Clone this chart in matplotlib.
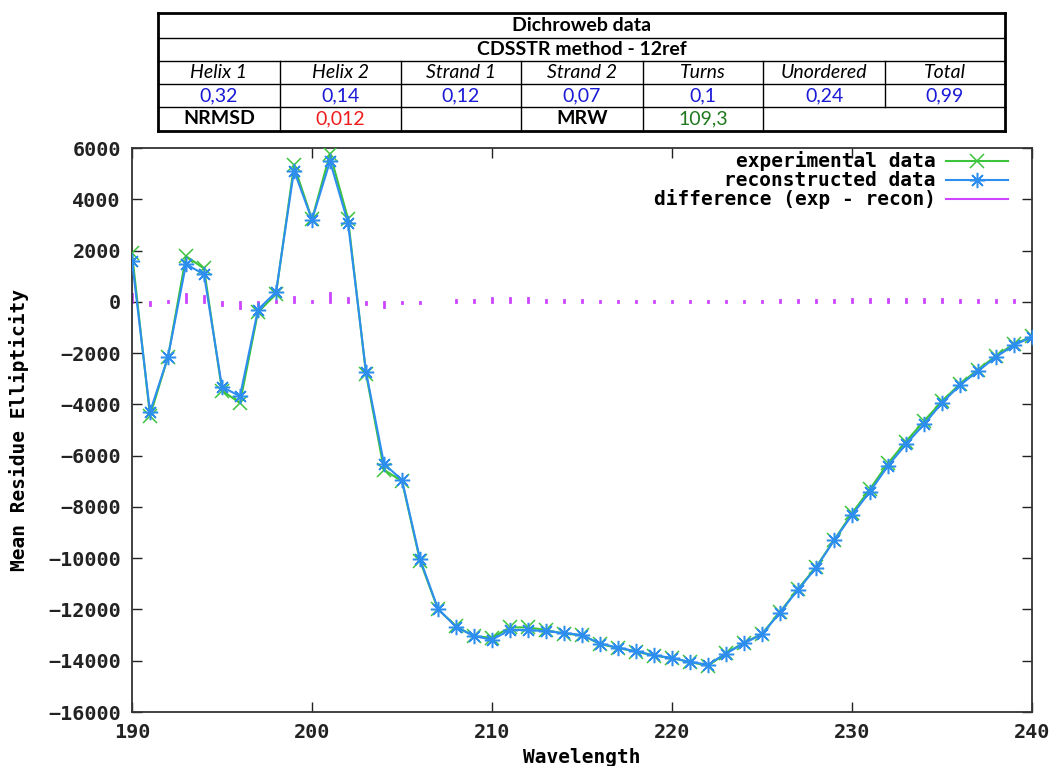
import numpy as np
import matplotlib.pyplot as plt
from matplotlib.lines import Line2D

# CD spectrum
wavelength = np.arange(190, 241)

experimental = [1900, -4450, -2150, 1780, 1300, -3460, -3950, -400, 300, 5320,
                3220, 5780, 3250, -2800, -6550, -7000, -10100, -12000, -12650, -13050,
                -13100, -12700, -12700, -12800, -12950, -13000, -13350, -13500, -13650, -13800,
                -13900, -14050, -14200, -13700, -13300, -12950, -12100, -11200, -10350, -9300,
                -8250, -7300, -6300, -5450, -4650, -3880, -3200, -2650, -2100, -1650,
                -1350]

reconstructed = [1600, -4300, -2150, 1470, 1070, -3320, -3680, -300, 380, 5120,
                 3200, 5480, 3080, -2720, -6320, -6950, -10030, -11970, -12680, -13040,
                 -13180, -12800, -12800, -12850, -12920, -13000, -13330, -13490, -13630, -13790,
                 -13890, -14050, -14150, -13720, -13320, -12970, -12120, -11230, -10380, -9310,
                 -8320, -7400, -6400, -5550, -4780, -3940, -3250, -2700, -2150, -1690,
                 -1370]

difference = [300, -120, 30, 300, 230, -120, -260, -130, 30, 200,
              30, 330, 150, -80, -220, -40, -50, 10, 80, 80,
              150, 160, 160, 90, 80, 80, 20, 20, 20, 20,
              20, 20, 20, 20, 20, 20, 60, 60, 60, 60,
              100, 100, 120, 120, 120, 100, 60, 60, 60, 60,
              40]

# summary table
table_title = "Dichroweb data"
table_method = "CDSSTR method - 12ref"
struct_labels = ["Helix 1", "Helix 2", "Strand 1", "Strand 2", "Turns", "Unordered", "Total"]
struct_values = ["0,32", "0,14", "0,12", "0,07", "0,1", "0,24", "0,99"]
nrmsd = "0,012"
mrw = "109,3"

W, H = 1058, 766
mono = "DejaVu Sans Mono"
sans = "Lato"
c_exp, c_rec, c_diff = "#3cc43c", "#2e8ef0", "#cc44ff"
exp_style = dict(color=c_exp, lw=1.5, marker="x", ms=10, mew=1.1)
rec_style = dict(color=c_rec, lw=1.5, marker=(8, 2, 0), ms=11, mew=1.1)


def px(x, y):
    return x / W, 1 - y / H


fig = plt.figure(figsize=(W / 100, H / 100), dpi=100)
ax = fig.add_axes([132 / W, 1 - 712 / H, 900 / W, 564 / H])

# difference drawn as impulses, like gnuplot
ax.vlines(wavelength, 0, difference, colors=c_diff, linewidth=2.0,
          capstyle="projecting", zorder=2)
ax.plot(wavelength, experimental, zorder=3, **exp_style)
ax.plot(wavelength, reconstructed, zorder=4, **rec_style)

ax.set_xlim(190, 240)
ax.set_ylim(-16000, 6000)
ax.set_xticks(np.arange(190, 241, 10))
ax.set_yticks(np.arange(-16000, 6001, 2000))
ax.tick_params(direction="in", length=7, width=1, top=True, right=True, pad=8,
               labelsize=14.5, colors="#222222")
for lab in ax.get_xticklabels() + ax.get_yticklabels():
    lab.set_family(mono)
    lab.set_weight("bold")
for sp in ax.spines.values():
    sp.set_linewidth(1.3)
    sp.set_color("#333333")

ax.set_xlabel("Wavelength", family=mono, weight="bold", fontsize=14, labelpad=4)
ax.set_ylabel("Mean Residue Ellipticity", family=mono, weight="bold", fontsize=14, labelpad=14)

# key: right-justified text with the sample to its right
key = [("experimental data", exp_style),
       ("reconstructed data", rec_style),
       ("difference (exp - recon)", dict(color=c_diff, lw=1.5))]
for i, (txt, style) in enumerate(key):
    yk = 0.977 - i * 0.034
    ax.text(0.893, yk, txt, transform=ax.transAxes, ha="right", va="center",
            family=mono, weight="bold", fontsize=14)
    ax.add_line(Line2D([0.904, 0.9385, 0.973], [yk, yk, yk], transform=ax.transAxes,
                       markevery=[1], **style))

# table drawn in figure pixels
cols = [158, 280, 401, 521, 643, 763, 885, 1005]
rows = [13, 38, 61, 84, 107, 131]


def hline(y, x0, x1, lw=1.0):
    fig.add_artist(Line2D([x0 / W, x1 / W], [1 - y / H, 1 - y / H], color="black", lw=lw))


def vline(x, y0, y1, lw=1.0):
    fig.add_artist(Line2D([x / W, x / W], [1 - y0 / H, 1 - y1 / H], color="black", lw=lw))


for y in rows[1:-1]:
    hline(y, cols[0], cols[-1])
hline(rows[0], cols[0], cols[-1], lw=2)
hline(rows[-1], cols[0], cols[-1], lw=2)
vline(cols[0], rows[0], rows[-1], lw=2)
vline(cols[-1], rows[0], rows[-1], lw=2)
for x in cols[1:-1]:
    vline(x, rows[2], rows[4])
    if x != cols[6]:   # last cell of bottom row spans two columns
        vline(x, rows[4], rows[5])


def cell_text(s, x0, x1, r, **kw):
    xc = (x0 + x1) / 2
    yc = (rows[r] + rows[r + 1]) / 2
    fig.text(*px(xc, yc), s, ha="center", va="center", family=sans, fontsize=14, **kw)


cell_text(table_title, cols[0], cols[-1], 0, weight="bold")
cell_text(table_method, cols[0], cols[-1], 1, weight="bold")
for i, (lab, val) in enumerate(zip(struct_labels, struct_values)):
    cell_text(lab, cols[i], cols[i + 1], 2, style="italic")
    cell_text(val, cols[i], cols[i + 1], 3, color="#1a1ad6")
cell_text("NRMSD", cols[0], cols[1], 4, weight="bold")
cell_text(nrmsd, cols[1], cols[2], 4, color="#ee1c1c")
cell_text("MRW", cols[3], cols[4], 4, weight="bold")
cell_text(mrw, cols[4], cols[5], 4, color="#1f7a1f")

fig.savefig("out.png", dpi=100)
plt.close()
